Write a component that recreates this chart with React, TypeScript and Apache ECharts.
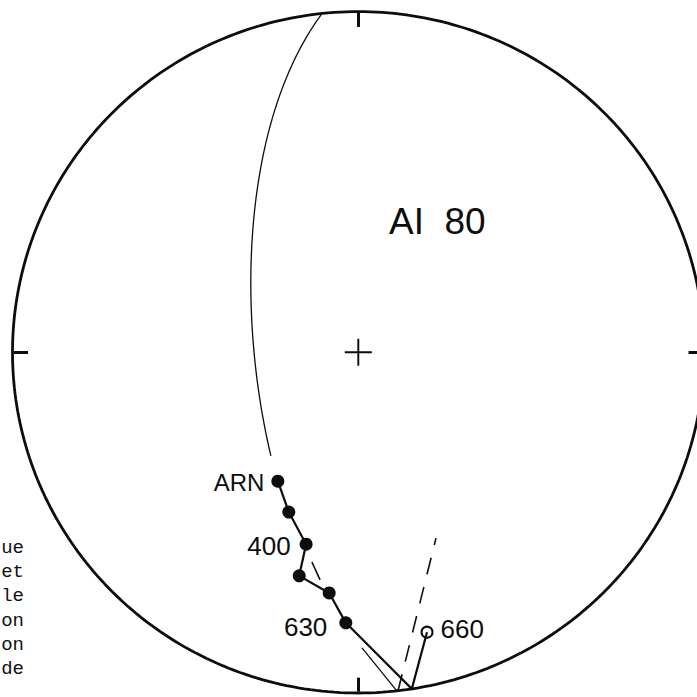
import React, { useEffect, useRef } from "react";
import * as echarts from "echarts";

// ---- Data (declination / inclination in degrees; inc < 0 = upper hemisphere) ----
const STEP_LABELS = ["ARN", "", "400", "", "", "630"];
const STEP_DEC = [211.6, 203.2, 195.0, 194.6, 186.8, 182.6];
const STEP_INC = [53.4, 47.7, 41.3, 32.7, 29.6, 21.6];
// where the demagnetisation path crosses the horizontal plane
const CROSS_DEC = [171.1];
const CROSS_INC = [0];
// last step, upper hemisphere (open symbol)
const UPPER_LABELS = ["660"];
const UPPER_DEC = [166.4];
const UPPER_INC = [-16.6];
// remagnetisation great circle (pole) and the drawn part of it (angle along circle)
const GC_POLE_DEC = 84.0;
const GC_POLE_INC = 24.5;
const GC_ARC = [0, 112];
// short thin segment reaching the primitive
const THIN_DEC = [179.3, 173.6];
const THIN_INC = [14.3, 0];
// dashed (upper hemisphere) trace
const DASH_DEC = [173.4, 157.6];
const DASH_INC = [0, -40.7];
// isolated dash between steps
const SHORT_DASH_DEC = [192.3, 189.4];
const SHORT_DASH_INC = [37.1, 32.8];
const SITE = "AI  80";
const CARDINAL_DEC = [0, 90, 180, 270];
const PAGE_FRAGMENTS = ["ue", "et", "le", "on", "on", "de"];

// ---- Equal-area (Schmidt) projection helpers ----
const RAD = Math.PI / 180;
function project(dec: number, inc: number): [number, number] {
  const r = Math.SQRT2 * Math.sin(((90 - Math.abs(inc)) / 2) * RAD);
  return [r * Math.sin(dec * RAD), r * Math.cos(dec * RAD)];
}
function dirVec(dec: number, inc: number): number[] {
  return [
    Math.cos(inc * RAD) * Math.cos(dec * RAD),
    Math.cos(inc * RAD) * Math.sin(dec * RAD),
    Math.sin(inc * RAD),
  ];
}
function projectVec(v: number[]): [number, number] {
  const inc = Math.asin(Math.max(-1, Math.min(1, v[2]))) / RAD;
  const dec = Math.atan2(v[1], v[0]) / RAD;
  return project(dec, inc);
}
function greatCircle(poleDec: number, poleInc: number, from: number, to: number): [number, number][] {
  const s = dirVec(poleDec - 90, 0);
  const d = dirVec(poleDec + 180, 90 - poleInc);
  const pts: [number, number][] = [];
  for (let t = from; t <= to; t += 1) {
    const c = Math.cos(t * RAD);
    const sn = Math.sin(t * RAD);
    pts.push(projectVec([c * s[0] + sn * d[0], c * s[1] + sn * d[1], c * s[2] + sn * d[2]]));
  }
  return pts;
}
function primitive(): [number, number][] {
  const pts: [number, number][] = [];
  for (let a = 0; a <= 360; a += 1) pts.push(project(a, 0));
  return pts;
}

const INK = "#0d0d0d";
const LABEL_STYLE: Record<string, any> = {
  ARN: { position: "left", distance: 7, offset: [0, 1.5], fontSize: 24 },
  "400": { position: "left", distance: 9, offset: [0, 2], fontSize: 26 },
  "630": { position: "left", distance: 12, offset: [0, 4], fontSize: 26 },
  "660": { position: "right", distance: 7, offset: [0, -3], fontSize: 26 },
};

function labelFor(name: string) {
  const st = LABEL_STYLE[name];
  if (!name || !st) return { show: false };
  return {
    show: true,
    position: st.position,
    distance: st.distance,
    offset: st.offset,
    formatter: "{b}",
    color: INK,
    opacity: 1,
    fontSize: st.fontSize,
    fontFamily: "Liberation Sans, Arial, sans-serif",
  };
}

export default function App() {
  const ref = useRef<HTMLDivElement>(null);

  useEffect(() => {
    if (!ref.current) return;
    const chart = echarts.init(ref.current, null, { renderer: "svg" });

    const steps = STEP_DEC.map((d, i) => ({
      name: STEP_LABELS[i],
      value: project(d, STEP_INC[i]),
      label: labelFor(STEP_LABELS[i]),
    }));
    const upper = UPPER_DEC.map((d, i) => ({
      name: UPPER_LABELS[i],
      value: project(d, UPPER_INC[i]),
      label: labelFor(UPPER_LABELS[i]),
    }));
    const pathPts = [
      ...STEP_DEC.map((d, i) => project(d, STEP_INC[i])),
      ...CROSS_DEC.map((d, i) => project(d, CROSS_INC[i])),
      ...UPPER_DEC.map((d, i) => project(d, UPPER_INC[i])),
    ];
    const ticks = CARDINAL_DEC.map((d) => {
      const p = project(d, 0);
      return { coords: [[p[0] * 0.996, p[1] * 0.996], [p[0] * 0.955, p[1] * 0.955]] };
    });

    const fragmentGraphics = PAGE_FRAGMENTS.map((t, i) => ({
      type: "text",
      x: 24,
      y: 548 + i * 24.2,
      style: {
        text: t,
        fill: "#111",
        font: "19px 'Liberation Mono', 'Courier New', monospace",
        textAlign: "right",
        textVerticalAlign: "middle",
      },
      silent: true,
    }));

    chart.setOption({
      animation: false,
      backgroundColor: "#fff",
      grid: { left: 12.5, top: 11.6, width: 691.6, height: 681.4, containLabel: false },
      xAxis: { type: "value", min: -1, max: 1, show: false },
      yAxis: { type: "value", min: -1, max: 1, show: false },
      graphic: [
        {
          type: "text",
          x: 389,
          y: 221.5,
          style: {
            text: SITE,
            fill: INK,
            font: "37px 'Liberation Sans', Arial, sans-serif",
            textAlign: "left",
            textVerticalAlign: "middle",
          },
          silent: true,
        },
        ...fragmentGraphics,
      ],
      series: [
        {
          type: "line",
          data: primitive(),
          showSymbol: false,
          symbol: "none",
          clip: false,
          lineStyle: { color: INK, width: 2.8 },
          silent: true,
        },
        {
          type: "lines",
          coordinateSystem: "cartesian2d",
          data: ticks,
          clip: false,
          lineStyle: { color: INK, width: 3, opacity: 1 },
          silent: true,
        },
        {
          type: "scatter",
          data: [project(0, 90)],
          symbol: "path://M13,0H15V13H28V15H15V28H13V15H0V13H13Z",
          symbolSize: 27,
          itemStyle: { color: INK, opacity: 1 },
          silent: true,
        },
        {
          type: "line",
          data: greatCircle(GC_POLE_DEC, GC_POLE_INC, GC_ARC[0], GC_ARC[1]),
          showSymbol: false,
          symbol: "none",
          smooth: false,
          lineStyle: { color: INK, width: 1.3 },
          silent: true,
        },
        {
          type: "line",
          data: THIN_DEC.map((d, i) => project(d, THIN_INC[i])),
          showSymbol: false,
          symbol: "none",
          lineStyle: { color: INK, width: 1.3 },
          silent: true,
        },
        {
          type: "line",
          data: DASH_DEC.map((d, i) => project(d, DASH_INC[i])),
          showSymbol: false,
          symbol: "none",
          lineStyle: { color: INK, width: 1.6, type: [17, 13] },
          silent: true,
        },
        {
          type: "line",
          data: SHORT_DASH_DEC.map((d, i) => project(d, SHORT_DASH_INC[i])),
          showSymbol: false,
          symbol: "none",
          lineStyle: { color: INK, width: 1.6 },
          silent: true,
        },
        {
          type: "line",
          data: pathPts,
          showSymbol: false,
          symbol: "none",
          lineStyle: { color: INK, width: 2.2 },
          silent: true,
        },
        {
          type: "scatter",
          data: steps,
          symbol: "circle",
          symbolSize: 13,
          itemStyle: { color: INK, opacity: 1 },
          silent: true,
        },
        {
          type: "scatter",
          data: upper,
          symbol: "circle",
          symbolSize: 11,
          itemStyle: { color: "#fff", borderColor: INK, borderWidth: 2, opacity: 1 },
          silent: true,
        },
      ],
    });

    return () => chart.dispose();
  }, []);

  return (
    <div
      style={{
        position: "absolute",
        left: 0,
        top: 0,
        width: 697,
        height: 697,
        overflow: "hidden",
        background: "#fff",
      }}
    >
      <div ref={ref} style={{ width: 720, height: 697 }} />
    </div>
  );
}
